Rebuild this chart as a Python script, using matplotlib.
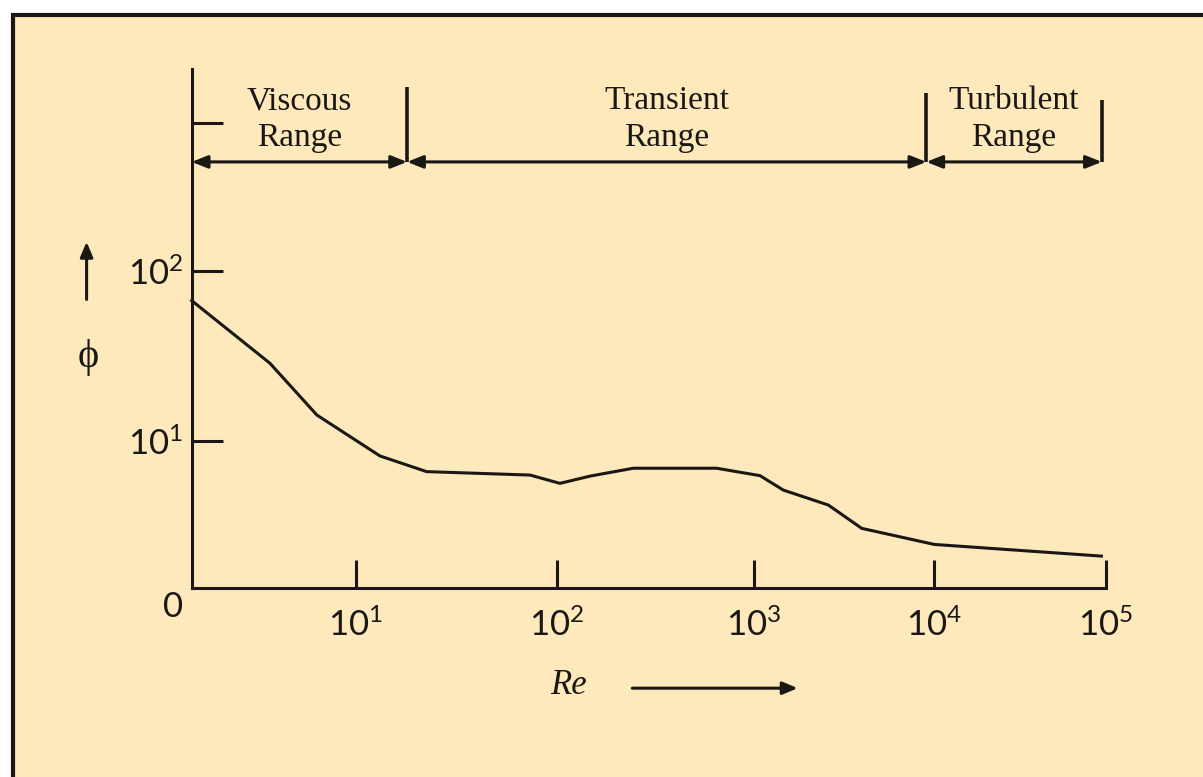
import numpy as np
import matplotlib
matplotlib.use("Agg")
import matplotlib.pyplot as plt
from matplotlib.patches import Rectangle

# ---- data ----
re_vals = [1.0, 3.0, 5.8, 13.2, 22.5, 73.5, 103.5, 147, 244, 647, 1083, 1459, 2594, 3981, 10090, 94400]
phi_vals = [66.7, 28.6, 14.2, 8.17, 6.61, 6.31, 5.64, 6.22, 6.92, 6.92, 6.26, 5.15, 4.21, 3.07, 2.47, 2.11]

x_ticks = [1e1, 1e2, 1e3, 1e4, 1e5]
x_labels = [r"$\mathregular{10^{1}}$", r"$\mathregular{10^{2}}$", r"$\mathregular{10^{3}}$",
            r"$\mathregular{10^{4}}$", r"$\mathregular{10^{5}}$"]
y_ticks = [1e1, 1e2, 741]
y_labels = [r"$\mathregular{10^{1}}$", r"$\mathregular{10^{2}}$", ""]

range_names = ["Viscous", "Transient", "Turbulent"]
range_edges = [1.0, 18, 9100, 95000]

# ---- hand drawn decade spacing of the x axis (pixels from origin) ----
DECADES = [-10, 0, 1, 2, 3, 4, 5, 15]
DECADE_PX = [-1640, 0, 164, 365.3, 562.1, 742, 914, 2634]


def fwd(x):
    x = np.asarray(x, dtype=float)
    return np.interp(np.log10(np.maximum(x, 1e-300)), DECADES, DECADE_PX)


def inv(p):
    return 10 ** np.interp(np.asarray(p, dtype=float), DECADE_PX, DECADES)


INK = "#1b1714"
BG = "#FDE9BB"
SERIF = "Liberation Serif"
TICKFONT = "Lato"

W, H = 1203, 777
fig = plt.figure(figsize=(W / 100, H / 100), dpi=100, facecolor="white")

# scanned page frame: beige paper with a black border at top and left
fig.add_artist(Rectangle((13 / W, -0.1), 1.2, 1 - 15 / H + 0.1, transform=fig.transFigure,
                         facecolor=BG, edgecolor=INK, linewidth=3.0, zorder=0))

ax = fig.add_axes([191.7 / W, 1 - 588 / H, 914 / W, 519 / H])
ax.set_facecolor("none")
ax.set_xscale("function", functions=(fwd, inv))
ax.set_yscale("log")
ax.set_xlim(1, 1e5)
ax.set_ylim(10 ** 0.137, 10 ** 3.184)

ax.plot(re_vals, phi_vals, color=INK, lw=2.2, solid_joinstyle="round", clip_on=False)

for side in ["top", "right"]:
    ax.spines[side].set_visible(False)
for side in ["left", "bottom"]:
    ax.spines[side].set_linewidth(2.2)
    ax.spines[side].set_color(INK)

ax.xaxis.set_minor_locator(matplotlib.ticker.NullLocator())
ax.yaxis.set_minor_locator(matplotlib.ticker.NullLocator())
ax.set_xticks(x_ticks)
ax.set_xticklabels(x_labels)
ax.set_yticks(y_ticks)
ax.set_yticklabels(y_labels)
ax.tick_params(axis="x", direction="in", length=20, width=2.2, color=INK, pad=14,
               labelsize=25, labelcolor=INK)
ax.tick_params(axis="y", direction="in", length=22, width=2.2, color=INK, pad=6,
               labelsize=25, labelcolor=INK)
for lab in ax.get_xticklabels() + ax.get_yticklabels():
    lab.set_family(TICKFONT)

# origin label
ax.text(-0.0205, -0.037, "0", transform=ax.transAxes, ha="center", va="center",
        fontsize=25, family=TICKFONT, color=INK)

head = "-|>,head_length=0.9,head_width=0.38"

# y label with arrow
ax.text(-0.113, 0.445, "ϕ", transform=ax.transAxes, ha="center", va="center",
        fontsize=29, family=[SERIF, "DejaVu Serif"], color=INK)
ax.annotate("", xy=(-0.115, 0.667), xytext=(-0.115, 0.556), xycoords="axes fraction",
            arrowprops=dict(arrowstyle=head, lw=2.2, color=INK, shrinkA=0, shrinkB=0),
            annotation_clip=False)

# x label with arrow
ax.text(0.412, -0.187, "Re", transform=ax.transAxes, ha="center", va="center",
        fontsize=25, family=SERIF, style="italic", color=INK)
ax.annotate("", xy=(0.663, -0.193), xytext=(0.482, -0.193), xycoords="axes fraction",
            arrowprops=dict(arrowstyle=head, lw=2.2, color=INK, shrinkA=0, shrinkB=0),
            annotation_clip=False)

# flow regime ranges above the curve
trans = matplotlib.transforms.blended_transform_factory(ax.transData, ax.transAxes)
arrow_y = 0.821
bar_tops = [0.965, 0.954, 0.940]
for i, name in enumerate(range_names):
    a, b = range_edges[i], range_edges[i + 1]
    ax.annotate("", xy=(b, arrow_y), xytext=(a, arrow_y), xycoords=trans,
                arrowprops=dict(arrowstyle="<|-|>,head_length=0.95,head_width=0.38", lw=2.2,
                                color=INK, shrinkA=0, shrinkB=0), annotation_clip=False)
    ax.plot([b, b], [arrow_y, bar_tops[i]], transform=trans, color=INK, lw=2.6,
            clip_on=False, solid_capstyle="butt")
    mid = inv((fwd(a) + fwd(b)) / 2)
    ax.text(mid, 0.922, name, transform=trans, ha="center", va="baseline",
            fontsize=24, family=SERIF, color=INK)
    ax.text(mid, 0.852, "Range", transform=trans, ha="center", va="baseline",
            fontsize=24, family=SERIF, color=INK)

fig.savefig("out.png", dpi=100, facecolor="white")
